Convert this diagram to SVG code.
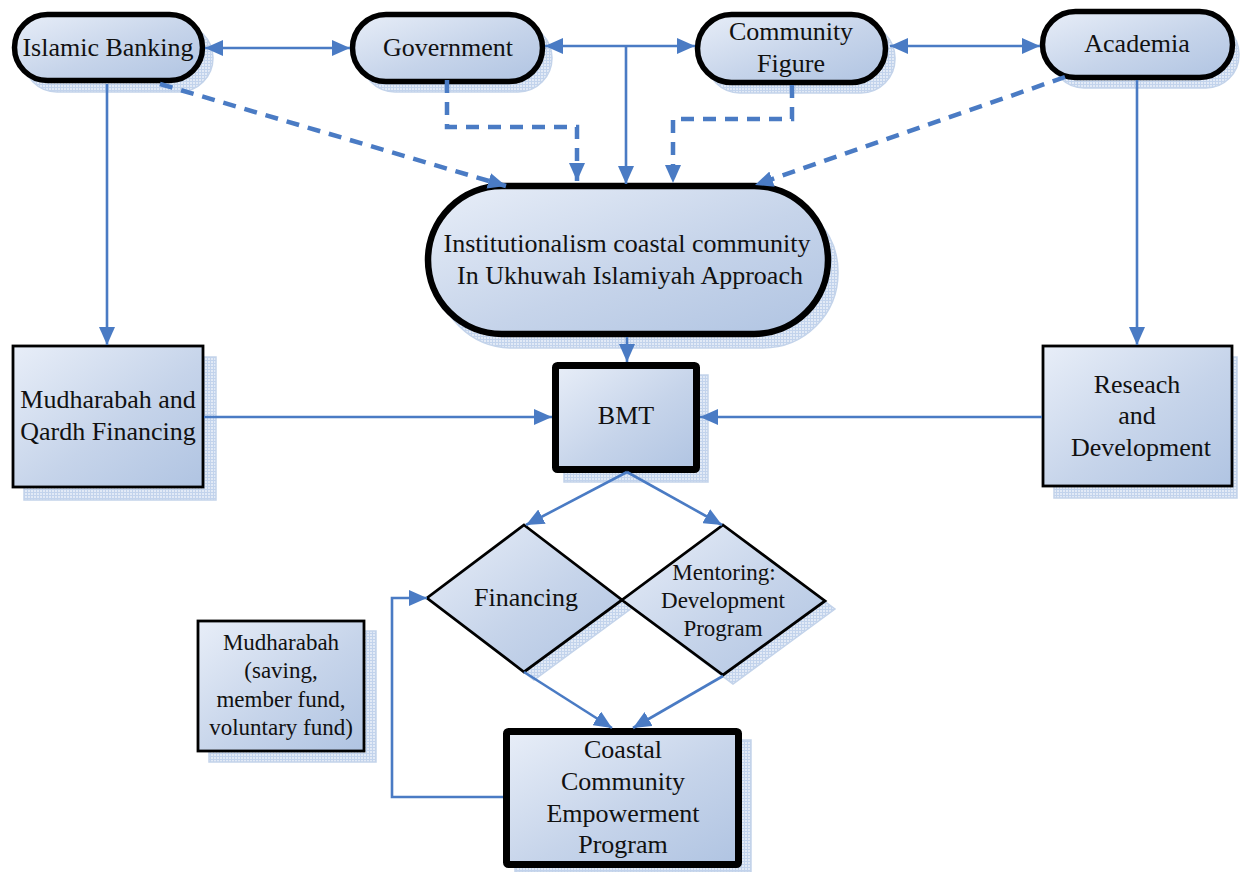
<svg xmlns="http://www.w3.org/2000/svg" width="1241" height="872" viewBox="0 0 1241 872">
<style>
.t{font-family:"Liberation Serif","Times New Roman",serif;font-size:26px;fill:#111;text-anchor:middle}
.s{font-size:23px}
.pill{fill:url(#g);stroke:#000;stroke-width:5.5}
.box{fill:url(#g);stroke:#000;stroke-width:2.8}
.bold{fill:url(#g);stroke:#000;stroke-width:7}
.sh{fill:url(#hatch);stroke:#c3d3ea;stroke-width:1.5}
.c{fill:none;stroke:#4a7bc4;stroke-width:2.6}
.d{fill:none;stroke:#4a7bc4;stroke-width:4.5;stroke-dasharray:13 9}
</style>
<defs>
<linearGradient id="g" x1="0" y1="0" x2="1" y2="1">
<stop offset="0" stop-color="#e8eef8"/>
<stop offset="0.55" stop-color="#c6d4ea"/>
<stop offset="1" stop-color="#b0c4e2"/>
</linearGradient>
<pattern id="hatch" width="3" height="3" patternUnits="userSpaceOnUse">
<rect width="3" height="3" fill="#e2eaf6"/>
<path d="M0,0.5 H3 M0.5,0 V3" stroke="#c2d3ec" stroke-width="1"/>
</pattern>
<marker id="a" viewBox="0 0 18 16" refX="18" refY="8" markerWidth="18" markerHeight="16" markerUnits="userSpaceOnUse" orient="auto-start-reverse">
<path d="M0,0 L18,8 L0,16 z" fill="#4a7bc4"/>
</marker>
</defs>

<g id="shadows">
<rect class="sh" x="23" y="24" width="190" height="68" rx="34"/>
<rect class="sh" x="361" y="24" width="191" height="68" rx="34"/>
<rect class="sh" x="706" y="24" width="189" height="69" rx="34"/>
<rect class="sh" x="1051" y="21" width="188" height="67" rx="33"/>
<rect class="sh" x="437" y="197" width="401" height="151" rx="75"/>
<rect class="sh" x="24" y="357" width="192" height="143"/>
<rect class="sh" x="1054" y="357" width="183" height="141"/>
<rect class="sh" x="564" y="375" width="144" height="107"/>
<rect class="sh" x="209" y="631" width="167" height="131"/>
<rect class="sh" x="515" y="740" width="236" height="132"/>
<polygon class="sh" points="534,533 632,608 534,680 437,606"/>
<polygon class="sh" points="733,533 835,609 733,684 632,608"/>
</g>

<g id="node-islamic-banking">
<rect class="pill" x="14.5" y="14.5" width="188" height="66" rx="33"/>
<text class="t" x="108" y="56">Islamic Banking</text>
</g>
<g id="node-government">
<rect class="pill" x="352.5" y="14.5" width="190" height="67" rx="33.5"/>
<text class="t" x="448" y="56">Government</text>
</g>
<g id="node-community-figure">
<rect class="pill" x="697.5" y="14.5" width="188" height="68" rx="34"/>
<text class="t" x="791" y="40">Community</text>
<text class="t" x="791" y="72">Figure</text>
</g>
<g id="node-academia">
<rect class="pill" x="1042.5" y="11.5" width="190" height="66" rx="33"/>
<text class="t" x="1137" y="52">Academia</text>
</g>
<g id="node-institutionalism">
<rect class="pill" x="428" y="186" width="400" height="148" rx="74" style="stroke-width:6.5"/>
<text class="t" x="627" y="252">Institutionalism coastal community</text>
<text class="t" x="630" y="284">In Ukhuwah Islamiyah Approach</text>
</g>
<g id="node-bmt">
<rect class="bold" x="555.5" y="365.5" width="141" height="104" rx="2"/>
<text class="t" x="626" y="424">BMT</text>
</g>
<g id="node-mudharabah-qardh">
<rect class="box" x="13" y="346" width="190" height="141"/>
<text class="t" x="108" y="408">Mudharabah and</text>
<text class="t" x="108" y="440">Qardh Financing</text>
</g>
<g id="node-research">
<rect class="box" x="1043" y="346" width="189" height="140"/>
<text class="t" x="1137" y="393">Reseach</text>
<text class="t" x="1137" y="424">and</text>
<text class="t" x="1141" y="456">Development</text>
</g>
<g id="node-financing">
<polygon class="box" points="524,525 622,600 524,672 427,598"/>
<text class="t" x="526" y="606">Financing</text>
</g>
<g id="node-mentoring">
<polygon class="box" points="723,525 825,601 723,675 622,600"/>
<text class="t s" x="724" y="580">Mentoring:</text>
<text class="t s" x="723" y="608">Development</text>
<text class="t s" x="723" y="636">Program</text>
</g>
<g id="node-mudharabah-saving">
<rect class="box" x="198" y="621" width="166" height="130"/>
<text class="t s" x="281" y="650">Mudharabah</text>
<text class="t s" x="281" y="678">(saving,</text>
<text class="t s" x="281" y="707">member fund,</text>
<text class="t s" x="281" y="735">voluntary fund)</text>
</g>
<g id="node-coastal">
<rect class="bold" x="506.5" y="731.5" width="232" height="133" rx="2"/>
<text class="t" x="623" y="758">Coastal</text>
<text class="t" x="623" y="790">Community</text>
<text class="t" x="623" y="822">Empowerment</text>
<text class="t" x="623" y="853">Program</text>
</g>

<g id="connectors">
<path class="c" d="M205,48 H350" marker-start="url(#a)" marker-end="url(#a)"/>
<path class="c" d="M545,46 H695" marker-start="url(#a)" marker-end="url(#a)"/>
<path class="c" d="M890,46 H1040" marker-start="url(#a)" marker-end="url(#a)"/>
<path class="c" d="M626,46 V184" marker-end="url(#a)"/>
<path class="d" d="M160,84 L506,186" marker-end="url(#a)"/>
<path class="d" d="M447,80 V127 H577 V181" marker-end="url(#a)"/>
<path class="d" d="M792,85 V119 H673 V183" marker-end="url(#a)"/>
<path class="d" d="M1065,77 L755,185" marker-end="url(#a)"/>
<path class="c" d="M107,84 V345" marker-end="url(#a)"/>
<path class="c" d="M1137,80 V345" marker-end="url(#a)"/>
<path class="c" d="M627,337 V362" marker-end="url(#a)"/>
<path class="c" d="M204,417 H552" marker-end="url(#a)"/>
<path class="c" d="M1042,417 H700" marker-end="url(#a)"/>
<path class="c" d="M627,472 L526,525" marker-end="url(#a)"/>
<path class="c" d="M627,472 L722,525" marker-end="url(#a)"/>
<path class="c" d="M524,672 L612,728" marker-end="url(#a)"/>
<path class="c" d="M723,676 L633,728" marker-end="url(#a)"/>
<path class="c" d="M503,797 H392 V598 H427" marker-end="url(#a)"/>
</g>
</svg>
